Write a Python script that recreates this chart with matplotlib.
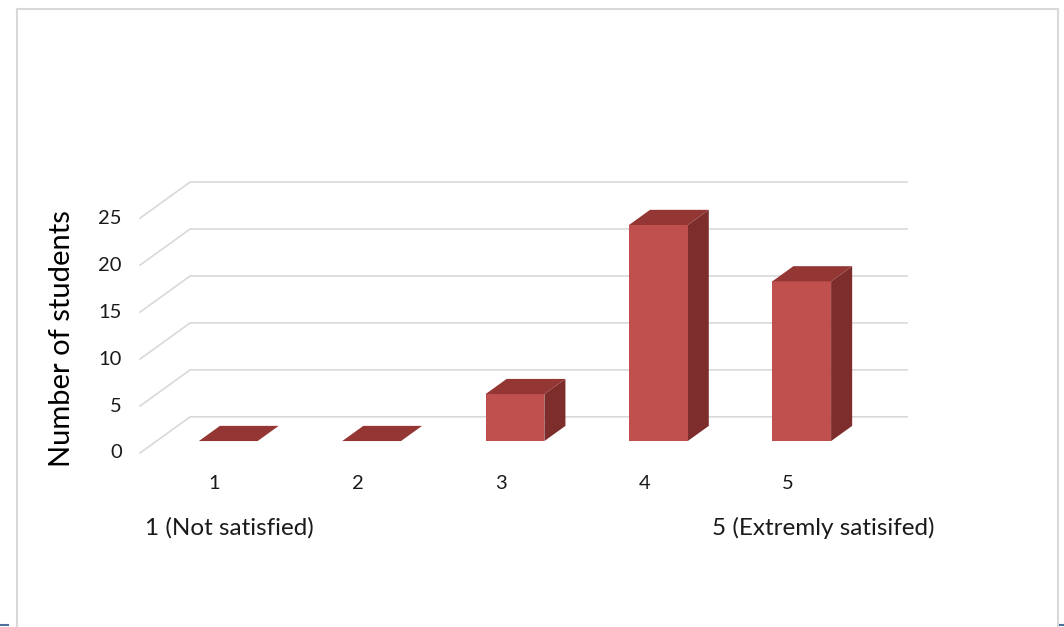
import matplotlib.pyplot as plt
from matplotlib.patches import Polygon
from matplotlib.lines import Line2D

plt.rcParams['font.family'] = ['Lato', 'DejaVu Sans']

# survey results: satisfaction score -> number of students
categories = ['1', '2', '3', '4', '5']
counts = [0, 0, 5, 23, 17]
y_ticks = [0, 5, 10, 15, 20, 25]
y_label = 'Number of students'
low_label = '1 (Not satisfied)'
high_label = '5 (Extremly satisifed)'

# pseudo-3d geometry (data units)
DEPTH_X = 0.35      # back wall shift along x
DEPTH_Y = 3.85      # back wall shift along y
BAR_W = 0.41
FRONT = 0.33        # bar front face, fraction of depth
BACK = 0.75         # bar back face, fraction of depth

FACE = '#C0504D'
SIDE = '#7D2E2C'
TOP = '#943634'
GRID = '#D9D9D9'
TXT = '#1a1a1a'

fig = plt.figure(figsize=(10.64, 6.27), dpi=100)
W, H = 1064, 627
ax = fig.add_axes([140 / W, (H - 453) / H, (907 - 140) / W, (453 - 182) / H])
n = len(categories)
ax.set_xlim(0.5, n + 0.5 + DEPTH_X)
ax.set_ylim(0, max(y_ticks) + DEPTH_Y)
ax.axis('off')

# gridlines: diagonal on the side wall, then along the back wall
for v in y_ticks:
    ax.plot([0.5, 0.5 + DEPTH_X, n + 0.5 + DEPTH_X], [v, v + DEPTH_Y, v + DEPTH_Y],
            color=GRID, lw=1.2, clip_on=False, zorder=1)
    ax.text(0.374, v, str(v), ha='right', va='center', fontsize=14.5, color=TXT)

fx, fy = FRONT * DEPTH_X, FRONT * DEPTH_Y
bx, by = BACK * DEPTH_X, BACK * DEPTH_Y
for i, (cat, c) in enumerate(zip(categories, counts)):
    x0 = i + 1 - BAR_W / 2 + fx
    x1 = x0 + BAR_W
    y0 = fy
    y1 = fy + c
    dx, dy = bx - fx, by - fy
    if c > 0:
        ax.add_patch(Polygon([(x1, y0), (x1 + dx, y0 + dy), (x1 + dx, y1 + dy), (x1, y1)],
                             closed=True, fc=SIDE, ec='none', zorder=3, clip_on=False))
        ax.add_patch(Polygon([(x0, y0), (x1, y0), (x1, y1), (x0, y1)],
                             closed=True, fc=FACE, ec='none', zorder=3, clip_on=False))
    ax.add_patch(Polygon([(x0, y1), (x1, y1), (x1 + dx, y1 + dy), (x0 + dx, y1 + dy)],
                         closed=True, fc=TOP, ec='none', zorder=3, clip_on=False))
    ax.text(i + 1 + 0.02, -3.2, cat, ha='center', va='center', fontsize=14.5, color=TXT)

ax.text(0.535, -8.0, low_label, ha='left', va='center', fontsize=17.5, color=TXT)
ax.text(6.04, -8.0, high_label, ha='right', va='center', fontsize=17.5, color=TXT)

fig.text(62 / W, (H - 339) / H, y_label, rotation=90, ha='center', va='center',
         fontsize=21, color='#000000')

# outer chart frame
frame = dict(color='#D9D9D9', lw=1.5, transform=fig.transFigure)
fig.add_artist(Line2D([17 / W, 17 / W], [0, (H - 9) / H], **frame))
fig.add_artist(Line2D([17 / W, 1058 / W], [(H - 9) / H, (H - 9) / H], **frame))
fig.add_artist(Line2D([1058 / W, 1058 / W], [0, (H - 9) / H], **frame))
edge = dict(color='#4F6F9F', lw=1.5, transform=fig.transFigure)
fig.add_artist(Line2D([0, 8 / W], [2 / H, 2 / H], **edge))
fig.add_artist(Line2D([1060 / W, 1], [2 / H, 2 / H], **edge))

fig.savefig('out.png', dpi=100)
